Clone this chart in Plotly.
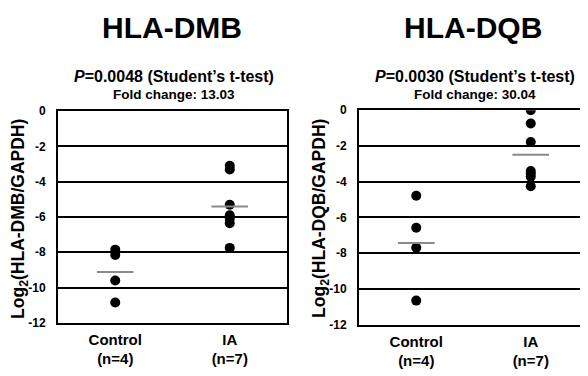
import numpy as np
import plotly.graph_objects as go

# ---- data ----
groups = ["Control", "IA"]
group_labels = ["Control<br>(n=4)", "IA<br>(n=7)"]
dmb_control = [-7.85, -8.15, -9.6, -10.85]
dmb_ia = [-3.1, -3.3, -5.3, -5.9, -6.1, -6.35, -7.75]
dqb_control = [-4.78, -6.57, -7.69, -10.65]
dqb_ia = [0.0, -0.74, -1.78, -3.4, -3.55, -3.72, -4.25]
y_ticks = [0, -2, -4, -6, -8, -10, -12]

# page has an 8px body margin: draw on a 580x368 figure offset by 8px
OFF = 8
W, H = 588 - OFF, 376 - OFF
FONT = "Liberation Sans, Arial, sans-serif"


def px(x):
    return (x - OFF) / W


def py(y):
    return 1 - (y - OFF) / H


fig = go.Figure()

panels = [
    ("x", "y", dmb_control, dmb_ia),
    ("x2", "y2", dqb_control, dqb_ia),
]
for xa, ya, ctrl, ia in panels:
    for gi, vals in enumerate([ctrl, ia]):
        fig.add_trace(go.Scatter(
            x=[gi] * len(vals), y=vals, mode="markers",
            marker=dict(color="black", size=10),
            xaxis=xa, yaxis=ya, showlegend=False, hoverinfo="y"))
        m = float(np.mean(vals))
        fig.add_trace(go.Scatter(
            x=[gi - 0.16, gi + 0.16], y=[m, m], mode="lines",
            line=dict(color="#8a8a8a", width=2),
            xaxis=xa, yaxis=ya, showlegend=False, hoverinfo="skip"))

axis_common_x = dict(
    range=[-0.5, 1.5], tickvals=[0, 1], ticktext=group_labels,
    showgrid=False, zeroline=False, showline=True, linecolor="black",
    linewidth=2, mirror=True, ticks="", ticklabelstandoff=2,
    tickfont=dict(family=FONT, size=15, color="black", weight="bold"),
)
axis_common_y = dict(
    range=[-12, 0], tickvals=y_ticks, ticktext=[str(v) for v in y_ticks],
    showgrid=True, gridcolor="black", gridwidth=2, zeroline=False,
    showline=True, linecolor="black", linewidth=2, ticks="",
    ticklabelstandoff=8,
    tickfont=dict(family=FONT, size=12, color="black", weight="bold"),
)

fig.update_layout(
    width=W, height=H, margin=dict(l=0, r=0, t=0, b=0),
    paper_bgcolor="white", plot_bgcolor="white",
    xaxis=dict(domain=[px(58), px(287)], anchor="y", **axis_common_x),
    yaxis=dict(domain=[py(328), py(108)], anchor="x", mirror=True, **axis_common_y),
    xaxis2=dict(domain=[px(359), 1.0], anchor="y2", **axis_common_x),
    yaxis2=dict(domain=[py(330), py(107)], anchor="x2", mirror=False, **axis_common_y),
)

bold = dict(family=FONT, color="black", weight="bold")
ann = []
for cx, title, pval, fold, ytitle, ycx in [
    (172, "HLA-DMB", "0.0048", "13.03", "HLA-DMB/GAPDH", 20),
    (473, "HLA-DQB", "0.0030", "30.04", "HLA-DQB/GAPDH", 321),
]:
    ann.append(dict(x=px(cx), y=py(21), text=title, showarrow=False,
                    xref="paper", yref="paper", xanchor="center", yanchor="middle",
                    font=dict(size=30, **bold)))
    ann.append(dict(x=px(cx + 2), y=py(72), text=f"<i>P</i>={pval} (Student’s t-test)",
                    showarrow=False, xref="paper", yref="paper",
                    xanchor="center", yanchor="middle", font=dict(size=16, **bold)))
    ann.append(dict(x=px(cx + 2), y=py(91), text=f"Fold change: {fold}",
                    showarrow=False, xref="paper", yref="paper",
                    xanchor="center", yanchor="middle", font=dict(size=13.5, **bold)))
    ann.append(dict(x=px(ycx), y=py(220), text=f"Log<sub>2</sub>({ytitle})",
                    textangle=-90, showarrow=False, xref="paper", yref="paper",
                    xanchor="center", yanchor="middle", font=dict(size=17.5, **bold)))
fig.update_layout(annotations=ann)

fig.write_html("out.html")
